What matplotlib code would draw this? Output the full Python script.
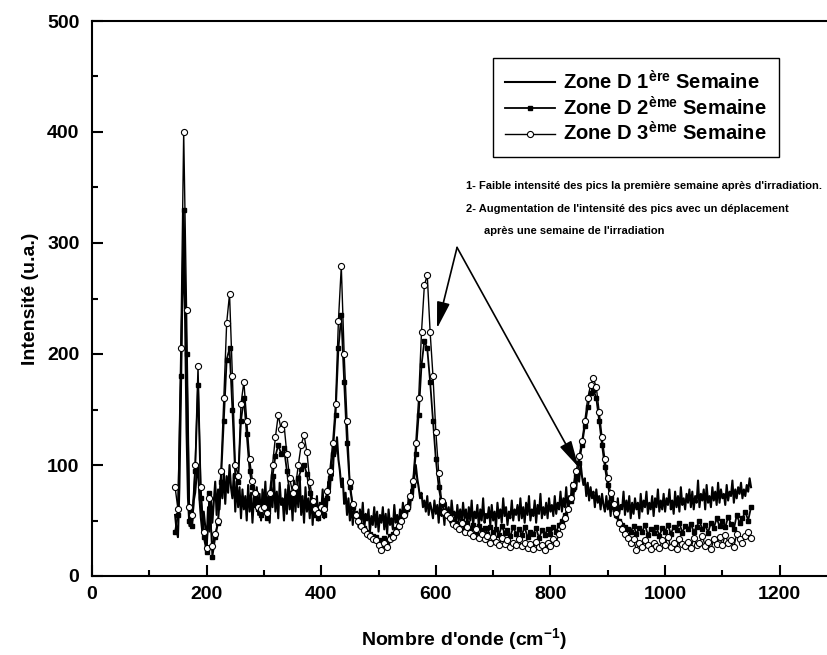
import numpy as np
import matplotlib
matplotlib.use('Agg')
import matplotlib.pyplot as plt
from matplotlib import font_manager

plt.rcParams['font.family'] = ['Liberation Sans', 'DejaVu Sans']
plt.rcParams['font.weight'] = 'bold'
plt.rcParams['mathtext.fontset'] = 'custom'
plt.rcParams['mathtext.rm'] = 'Liberation Sans:bold'
plt.rcParams['mathtext.bf'] = 'Liberation Sans:bold'
plt.rcParams['mathtext.it'] = 'Liberation Sans:bold'
plt.rcParams['mathtext.default'] = 'bf'

# wavenumber grids (cm-1)
wavenumber_w1 = np.arange(145, 1150.1, 2.5)   # 403 points
wavenumber = np.arange(145, 1151, 5)          # 202 points

zone_d_week1 = [
    55, 42, 35, 80, 160, 250, 290, 230, 130, 70, 45, 62, 50, 68, 75, 90, 100, 70, 52, 40,
    58, 45, 30, 62, 40, 70, 48, 66, 85, 55, 78, 60, 88, 70, 95, 65, 90, 75, 100, 80,
    70, 92, 58, 85, 62, 80, 52, 78, 60, 72, 50, 82, 58, 75, 48, 70, 62, 80, 55, 74,
    50, 78, 60, 85, 55, 72, 48, 80, 62, 90, 58, 76, 52, 84, 64, 70, 50, 78, 56, 82,
    60, 74, 50, 86, 58, 78, 62, 90, 55, 72, 48, 80, 58, 70, 52, 76, 46, 68, 55, 72,
    50, 66, 58, 78, 52, 70, 62, 85, 75, 100, 90, 118, 110, 125, 105, 95, 80, 88, 65, 75,
    55, 70, 50, 64, 46, 62, 52, 58, 44, 60, 48, 66, 42, 56, 50, 60, 40, 54, 46, 62,
    44, 58, 40, 55, 48, 62, 42, 56, 38, 60, 46, 52, 42, 64, 48, 55, 44, 60, 50, 66,
    52, 62, 55, 70, 60, 78, 72, 90, 100, 88, 80, 70, 75, 62, 68, 58, 72, 55, 66, 60,
    52, 68, 56, 64, 48, 70, 54, 60, 46, 66, 52, 62, 48, 68, 55, 58, 45, 64, 50, 60,
    48, 66, 52, 60, 45, 62, 50, 68, 46, 58, 52, 64, 44, 60, 50, 70, 48, 56, 52, 62,
    46, 64, 50, 58, 44, 66, 52, 60, 48, 70, 54, 62, 46, 58, 52, 68, 50, 60, 55, 64,
    50, 70, 52, 62, 48, 66, 55, 72, 50, 60, 54, 68, 48, 64, 56, 74, 52, 62, 55, 66,
    52, 70, 58, 64, 54, 72, 56, 66, 60, 76, 58, 70, 62, 80, 60, 72, 66, 84, 70, 88,
    78, 95, 85, 102, 90, 82, 88, 72, 84, 68, 80, 70, 76, 62, 78, 66, 72, 60, 74, 64,
    58, 72, 60, 68, 54, 74, 58, 66, 52, 70, 56, 64, 60, 76, 55, 68, 58, 72, 52, 66,
    56, 70, 60, 66, 52, 74, 58, 68, 62, 76, 56, 66, 60, 72, 54, 70, 62, 78, 58, 68,
    60, 74, 58, 70, 64, 78, 60, 68, 56, 76, 62, 72, 58, 80, 64, 70, 60, 74, 66, 78,
    62, 76, 60, 72, 66, 86, 62, 74, 68, 78, 60, 82, 66, 72, 62, 80, 68, 76, 64, 84,
    66, 78, 70, 74, 64, 82, 68, 76, 72, 86, 66, 78, 70, 80, 74, 84, 70, 78, 72, 82,
    76, 88, 80,
]

zone_d_week2 = [
    40, 55, 180, 330, 200, 50, 45, 95, 172, 70,
    35, 22, 75, 17, 35, 48, 85, 140, 195, 205,
    150, 90, 85, 140, 160, 128, 95, 80, 70, 60,
    55, 60, 52, 68, 90, 108, 118, 110, 115, 95,
    75, 70, 72, 88, 96, 100, 92, 75, 62, 55,
    52, 58, 55, 70, 88, 110, 145, 205, 235, 175,
    120, 80, 62, 55, 50, 46, 43, 40, 38, 36,
    35, 32, 28, 34, 30, 36, 38, 42, 46, 50,
    55, 60, 70, 82, 110, 145, 190, 212, 205, 175,
    140, 105, 80, 65, 58, 55, 54, 50, 48, 46,
    50, 44, 48, 42, 46, 40, 45, 41, 43, 38,
    44, 40, 42, 37, 45, 39, 41, 36, 44, 38,
    42, 37, 44, 35, 40, 38, 43, 34, 41, 37,
    42, 38, 44, 40, 46, 50, 55, 60, 68, 78,
    90, 102, 118, 135, 152, 165, 168, 160, 140, 118,
    98, 82, 70, 62, 55, 50, 46, 44, 42, 40,
    45, 38, 43, 40, 46, 37, 42, 39, 44, 36,
    43, 40, 46, 38, 44, 41, 48, 39, 45, 42,
    47, 40, 44, 50, 42, 46, 39, 48, 43, 52,
    45, 50, 44, 53, 47, 42, 55, 48, 52, 58,
    50, 62,
]

zone_d_week3 = [
    80, 60, 205, 400, 240, 62, 55, 100, 189, 80,
    40, 25, 70, 27, 38, 50, 95, 160, 228, 254,
    180, 100, 90, 155, 175, 140, 105, 86, 75, 62,
    60, 62, 57, 75, 100, 125, 145, 132, 137, 110,
    88, 75, 80, 100, 118, 127, 112, 85, 68, 60,
    57, 62, 60, 77, 95, 120, 155, 230, 279, 200,
    140, 85, 65, 55, 50, 45, 41, 38, 36, 33,
    32, 28, 23, 30, 26, 33, 35, 40, 45, 50,
    55, 62, 72, 86, 120, 160, 220, 262, 271, 220,
    180, 130, 93, 68, 58, 55, 52, 47, 45, 42,
    48, 40, 44, 39, 36, 42, 34, 38, 33, 36,
    30, 35, 31, 28, 34, 29, 32, 26, 30, 28,
    33, 27, 30, 25, 29, 24, 31, 26, 28, 23,
    30, 27, 33, 30, 38, 45, 52, 60, 70, 82,
    95, 108, 122, 140, 160, 172, 178, 170, 148, 125,
    105, 88, 75, 65, 57, 48, 42, 38, 34, 30,
    33, 23, 30, 26, 32, 28, 24, 30, 27, 25,
    32, 28, 35, 26, 30, 24, 33, 29, 27, 31,
    25, 34, 28, 30, 36, 27, 31, 24, 33, 29,
    35, 28, 37, 30, 32, 26, 38, 33, 30, 36,
    40, 34,
]

labels = [
    r"Zone D 1$^{ère}$ Semaine",
    r"Zone D 2$^{ème}$ Semaine",
    r"Zone D 3$^{ème}$ Semaine",
]
note_lines = [
    "1- Faible intensité des pics la première semaine après d'irradiation.",
    "2- Augmentation de l'intensité des pics avec un déplacement",
    "après une semaine de l'irradiation",
]

# narrow font for the annotation if available
note_family = ['Liberation Sans', 'DejaVu Sans']
note_size = 8.0
try:
    font_manager.findfont(font_manager.FontProperties(family='Liberation Sans Narrow'),
                          fallback_to_default=False)
    note_family = ['Liberation Sans Narrow', 'Liberation Sans', 'DejaVu Sans']
    note_size = 9.8
except Exception:
    pass

fig = plt.figure(figsize=(8.28, 6.55), dpi=100)
ax = fig.add_axes([92 / 828, 1 - 576 / 655, 745 / 828, 555 / 655])

ax.plot(wavenumber_w1, zone_d_week1, color='black', lw=1.5, label=labels[0], zorder=2)
ax.plot(wavenumber, zone_d_week2, color='black', lw=1.3, marker='s', ms=3.4,
        mfc='black', mec='black', label=labels[1], zorder=3)
ax.plot(wavenumber, zone_d_week3, color='black', lw=1.0, marker='o', ms=4.4,
        mfc='white', mec='black', mew=0.8, label=labels[2], zorder=4)

ax.set_xlim(0, 1300)
ax.set_ylim(0, 500)
ax.set_xticks([0, 200, 400, 600, 800, 1000, 1200])
ax.set_xticks(np.arange(100, 1300, 200), minor=True)
ax.set_yticks([0, 100, 200, 300, 400, 500])
ax.set_yticks(np.arange(50, 500, 100), minor=True)
ax.tick_params(axis='both', which='major', direction='in', length=8, width=1.5,
               labelsize=14, pad=7)
ax.tick_params(axis='both', which='minor', direction='in', length=4.5, width=1.5)
ax.tick_params(axis='y', which='major', pad=9)
for lab in ax.get_xticklabels() + ax.get_yticklabels():
    lab.set_fontweight('bold')
for s in ['left', 'bottom', 'top', 'right']:
    ax.spines[s].set_linewidth(1.5)

ax.set_xlabel(r"Nombre d'onde (cm$^{-1}$)", fontsize=14, fontweight='bold', labelpad=17)
ax.set_ylabel("Intensité (u.a.)", fontsize=14, fontweight='bold', labelpad=6)

leg = ax.legend(loc='upper left', bbox_to_anchor=(0.538, 0.933), fontsize=14.5,
                frameon=True, fancybox=False, edgecolor='black', framealpha=1,
                handlelength=2.5, handletextpad=0.4, borderpad=0.6,
                labelspacing=0.12, borderaxespad=0)
leg.get_frame().set_linewidth(1.0)
for t in leg.get_texts():
    t.set_fontweight('bold')

ax.text(652, 351, note_lines[0], fontsize=note_size, family=note_family,
        fontweight='bold', va='center', ha='left')
ax.text(652, 330.5, note_lines[1], fontsize=note_size, family=note_family,
        fontweight='bold', va='center', ha='left')
ax.text(684, 311, note_lines[2], fontsize=note_size, family=note_family,
        fontweight='bold', va='center', ha='left')

arrow_kw = dict(arrowstyle='-|>,head_length=0.9,head_width=0.22', color='black',
                lw=1.2, mutation_scale=18, shrinkA=0, shrinkB=0)
ax.annotate('', xy=(602, 223), xytext=(637, 296), arrowprops=arrow_kw)
ax.annotate('', xy=(849, 98), xytext=(637, 296), arrowprops=arrow_kw)

fig.savefig('out.png', dpi=100)
